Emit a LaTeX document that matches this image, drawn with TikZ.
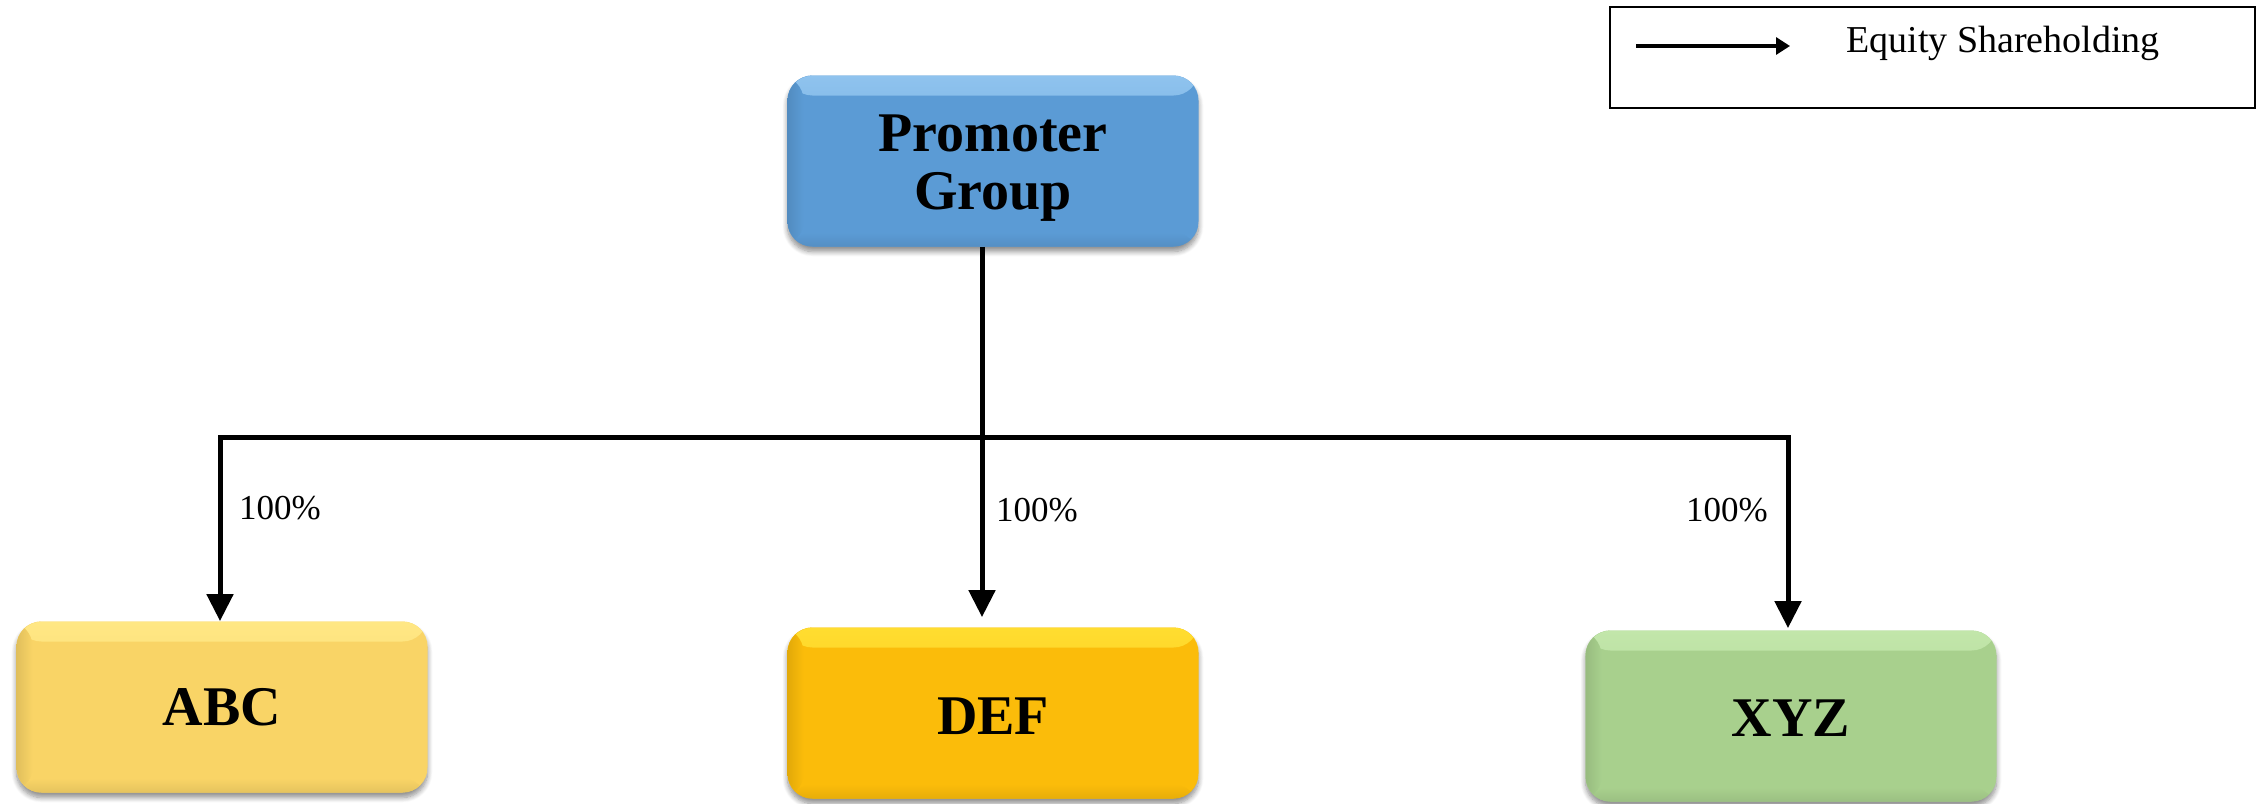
\documentclass[tikz,border=0pt]{standalone}
\usepackage{fontspec}
\setmainfont{Liberation Serif}
\usetikzlibrary{arrows.meta,shadows.blur}

\definecolor{promblue}{HTML}{5B9BD5}
\definecolor{promrim}{HTML}{8FC3EE}
\definecolor{abcgold}{HTML}{F9D466}
\definecolor{abcrim}{HTML}{FFE784}
\definecolor{defgold}{HTML}{FBBC0A}
\definecolor{defrim}{HTML}{FFDD30}
\definecolor{xyzgreen}{HTML}{A8D08D}
\definecolor{xyzrim}{HTML}{C2E6AA}

% lower a label inside its box without changing the box size
\newcommand{\lowerby}[2]{\raisebox{-#1}[\height][\depth]{#2}}

\tikzset{
  entity/.style n args={2}{
    rounded corners=12.5pt, fill=#1, inner sep=0pt,
    minimum width=205.5pt, minimum height=85.5pt,
    align=center, font=\fontsize{28}{29}\selectfont\bfseries,
    blur shadow={shadow xshift=0pt, shadow yshift=-2.5pt,
                 shadow blur radius=2.5pt, shadow blur steps=8, shadow opacity=45},
    path picture={
      \shade[top color=#2, bottom color=#1]
        (path picture bounding box.north west) rectangle
        ([yshift=-10pt]path picture bounding box.north east);
      \shade[left color=#1!90!black, right color=#1]
        (path picture bounding box.north west) rectangle
        ([xshift=8pt]path picture bounding box.south west);
      \shade[top color=#1, bottom color=#1!92!black]
        ([yshift=7pt]path picture bounding box.south west) rectangle
        (path picture bounding box.south east);
    }
  },
  conn/.style={line width=2.5pt, line join=miter},
  holding/.style={conn, -{Triangle[width=13pt,length=13.5pt]}},
  pct/.style={font=\fontsize{17.5}{19}\selectfont},
}

\begin{document}
\begin{tikzpicture}[x=0.5pt, y=-0.5pt]
  \useasboundingbox (0,0) rectangle (2264,803);

  % ownership entities
  \node[entity={promblue}{promrim}] (prom) at (993,161)
    {\lowerby{4pt}{\begin{tabular}{@{}c@{}}Promoter\\Group\end{tabular}}};
  \node[entity={abcgold}{abcrim}]   (abc)  at (222,707) {ABC};
  \node[entity={defgold}{defrim}]   (def)  at (993,713) {\lowerby{1.5pt}{DEF}};
  \node[entity={xyzgreen}{xyzrim}]  (xyz)  at (1791,716) {\lowerby{1pt}{XYZ}};

  % shareholding tree
  \coordinate (split) at (982,437);
  \draw[conn] (prom.south -| split) -- (split);
  \draw[holding] (split) -| ([xshift=-1pt]abc.north);
  \draw[holding] (split) -- ([yshift=5pt]def.north -| split);
  \draw[holding] (split) -| ([xshift=-1.5pt,yshift=1pt]xyz.north);

  % percentages
  \node[pct] (p1) at (280,508) {100\%};
  \node[pct] (p2) at (1037,510) {100\%};
  \node[pct] (p3) at (1727,510) {100\%};

  % legend
  \node[draw, line width=1pt, minimum width=322.5pt, minimum height=50.5pt, inner sep=0pt]
    (legend) at (1932.5,57.5) {};
  \coordinate (legA) at (1636,46);
  \coordinate (legB) at (1790,46);
  \draw[line width=1.6pt, -{Triangle[width=8.5pt,length=7pt]}] (legA) -- (legB);
  \node[font=\fontsize{19}{21}\selectfont] (legtext) at (2003,43) {Equity Shareholding};
\end{tikzpicture}
\end{document}
